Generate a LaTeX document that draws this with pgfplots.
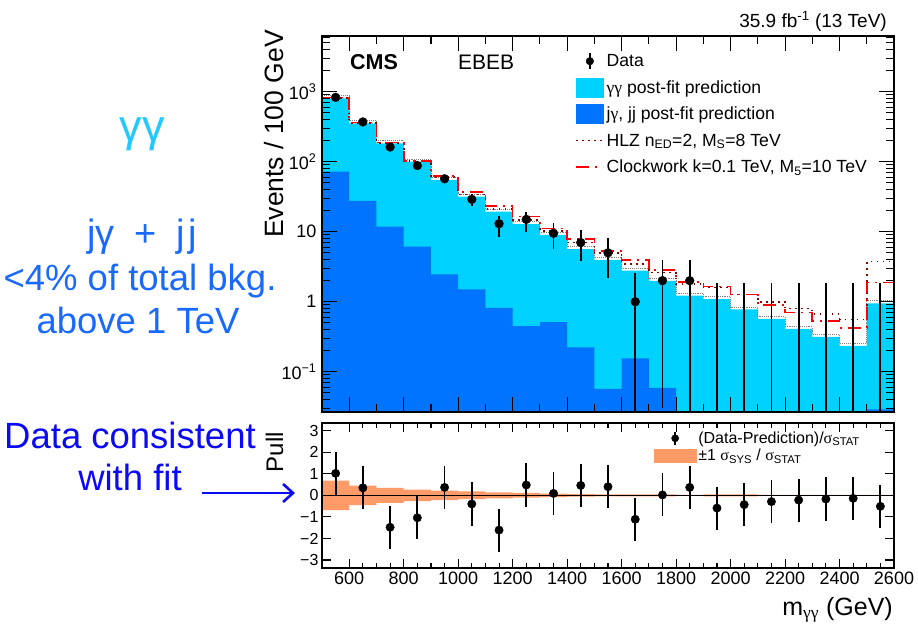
\documentclass[border=0pt]{standalone}
\usepackage{fontspec}
\setmainfont{Liberation Sans}
\newfontfamily\serifgreek{Liberation Serif}
\usepackage{pgfplots}
\pgfplotsset{compat=1.18}
\usetikzlibrary{arrows.meta}
\definecolor{ggcyan}{RGB}{0,210,255}
\definecolor{jjblue}{RGB}{0,115,255}
\definecolor{hlzred}{RGB}{140,0,0}
\definecolor{cwred}{RGB}{255,0,0}
\definecolor{sysorange}{RGB}{255,155,105}
\definecolor{annocyan}{RGB}{35,200,255}
\definecolor{annoblue}{RGB}{25,105,255}
\definecolor{annodark}{RGB}{10,10,245}
\newcommand{\fs}[1]{\fontsize{#1}{#1}\selectfont}
\newcommand{\sg}{{\serifgreek γ}}
\newcommand{\ssig}{{\serifgreek σ}}
\begin{document}
\begin{tikzpicture}
\useasboundingbox (0pt,0pt) rectangle (918pt,-625pt);
% ---------------- upper panel ----------------
\begin{axis}[
  at={(322pt,-412pt)}, anchor=south west, scale only axis,
  width=572pt, height=376.3pt,
  xmin=500, xmax=2600, ymode=log, ymin=0.0266, ymax=6300,
  xtick={600,800,...,2600}, xticklabels={}, minor x tick num=1,
  ytick={0.1,1,10,100,1000},
  yticklabels={10\textsuperscript{−1},1,10,10\textsuperscript{2},10\textsuperscript{3}},
  minor ytick={0.03,0.04,0.05,0.06,0.07,0.08,0.09,0.2,0.3,0.4,0.5,0.6,0.7,0.8,0.9,2,3,4,5,6,7,8,9,20,30,40,50,60,70,80,90,200,300,400,500,600,700,800,900,2000,3000,4000,5000,6000},
  tick align=inside, major tick length=15pt, minor tick length=8pt,
  axis line style={line width=1.6pt}, tick style={line width=1.1pt, black},
  yticklabel style={font=\fs{18}, xshift=-2pt},
  axis on top,
  legend style={at={(rel axis cs:0.443,0.968)}, anchor=north west, draw=none, fill=none,
    font=\fs{17.6}, row sep=0pt, inner sep=0pt, nodes={inner sep=2.5pt, minimum height=26.5pt}},
  legend cell align=left,
]
% total background (gamma gamma + jets), cyan
\addplot[fill=ggcyan, draw=none, const plot mark left, forget plot] coordinates {
 (500,0.01) (500,805) (600,354) (700,183) (800,100) (900,55) (1000,31.6) (1100,19.3)
 (1200,12.8) (1300,9.0) (1400,5.66) (1500,3.94) (1600,2.77) (1700,1.98) (1800,1.22)
 (1900,1.09) (2000,0.78) (2100,0.567) (2200,0.41) (2300,0.316) (2400,0.235) (2500,0.95)
 (2600,0.95) (2600,0.01)};
% uncertainty edge
\addplot[gray, line width=0.9pt, densely dotted, const plot mark left, forget plot] coordinates {
 (500,869) (600,382) (700,198) (800,108) (900,59.4) (1000,34.1) (1100,20.8)
 (1200,13.8) (1300,9.72) (1400,6.11) (1500,4.26) (1600,2.99) (1700,2.14) (1800,1.32)
 (1900,1.18) (2000,0.84) (2100,0.61) (2200,0.44) (2300,0.34) (2400,0.254) (2500,1.03) (2600,1.03)};
% j gamma + jj, blue
\addplot[fill=jjblue, draw=none, const plot mark left, forget plot] coordinates {
 (500,0.01) (500,72) (600,27.6) (700,11.8) (800,6.1) (900,2.46) (1000,1.5) (1100,0.82)
 (1200,0.45) (1300,0.51) (1400,0.223) (1500,0.057) (1600,0.155) (1700,0.059) (1800,0.01)
 (1900,0.01) (2000,0.01) (2100,0.01) (2200,0.01) (2300,0.01) (2400,0.01) (2500,0.029)
 (2600,0.029) (2600,0.01)};
% HLZ
\addplot[hlzred, line width=1.6pt, dash pattern=on 1.6pt off 4.4pt, const plot mark left, forget plot] coordinates {
 (500,815) (600,360) (700,186) (800,102) (900,61) (1000,34) (1100,21)
 (1200,14.7) (1300,10.3) (1400,7.0) (1500,5.0) (1600,3.46) (1700,2.6) (1800,1.79)
 (1900,1.6) (2000,1.27) (2100,1.0) (2200,0.80) (2300,0.667) (2400,0.56) (2500,3.73) (2600,3.73)};
% Clockwork
\addplot[cwred, line width=1.6pt, dash pattern=on 13pt off 6pt on 2pt off 6pt, const plot mark left, forget plot] coordinates {
 (500,830) (600,364) (700,187) (800,103) (900,63) (1000,37) (1100,23.5)
 (1200,16.4) (1300,11.1) (1400,7.8) (1500,5.35) (1600,3.94) (1700,2.84) (1800,1.93)
 (1900,1.64) (2000,1.27) (2100,0.906) (2200,0.70) (2300,0.535) (2400,0.425) (2500,1.89) (2600,1.89)};
% data error bars
\addplot[black, line width=1.8pt, unbounded coords=jump, forget plot] table[row sep=\\] {
 x y\\ 550 801\\ 550 859\\ nan nan\\ 650 351\\ 650 389\\ nan nan\\ 750 149\\ 750 175\\ nan nan\\
 850 79\\ 850 97\\ nan nan\\ 950 49.5\\ 950 64.5\\ nan nan\\ 1050 23\\ 1050 34.4\\ nan nan\\
 1150 8.3\\ 1150 17\\ nan nan\\ 1250 10\\ 1250 19.3\\ nan nan\\ 1350 5.6\\ 1350 13.2\\ nan nan\\
 1450 3.85\\ 1450 10.6\\ nan nan\\ 1550 2.2\\ 1550 8\\ nan nan\\ 1650 0.01\\ 1650 2.6\\ nan nan\\
 1750 0.03\\ 1750 3.94\\ nan nan\\ 1850 0.01\\ 1850 3.94\\ nan nan\\ 1950 0.01\\ 1950 1.83\\ nan nan\\
 2050 0.01\\ 2050 1.83\\ nan nan\\ 2150 0.01\\ 2150 1.83\\ nan nan\\ 2250 0.01\\ 2250 1.83\\ nan nan\\
 2350 0.01\\ 2350 1.83\\ nan nan\\ 2450 0.01\\ 2450 1.83\\ nan nan\\ 2550 0.01\\ 2550 1.83\\
};
% data points
\addplot[only marks, mark=*, mark size=4.4pt, black, forget plot] coordinates {
 (550,830) (650,370) (750,162) (850,88) (950,57) (1050,29) (1150,13) (1250,15)
 (1350,9.5) (1450,7) (1550,5) (1650,1) (1750,2) (1850,2)};
\addlegendimage{legend image code/.code={\draw[black,line width=1.6pt] (13.5pt,-8pt)--(13.5pt,8pt); \fill[black] (13.5pt,0pt) circle (3.8pt);}}
\addlegendentry{Data}
\addlegendimage{legend image code/.code={\fill[ggcyan] (0pt,-9.5pt) rectangle (27pt,9.5pt);}}
\addlegendentry{\sg\sg\ post-fit prediction}
\addlegendimage{legend image code/.code={\fill[jjblue] (0pt,-9.5pt) rectangle (27pt,9.5pt);}}
\addlegendentry{j\sg, jj post-fit prediction}
\addlegendimage{legend image code/.code={\draw[hlzred,line width=1.6pt,dash pattern=on 1.6pt off 4.4pt] (0pt,0pt)--(27pt,0pt);}}
\addlegendentry{HLZ n\textsubscript{ED}=2, M\textsubscript{S}=8 TeV}
\addlegendimage{legend image code/.code={\draw[cwred,line width=1.6pt,dash pattern=on 13pt off 6pt on 2pt off 6pt] (0pt,0pt)--(27pt,0pt);}}
\addlegendentry{Clockwork k=0.1 TeV, M\textsubscript{5}=10 TeV}
\end{axis}
% ---------------- pull panel ----------------
\begin{axis}[
  at={(322pt,-568pt)}, anchor=south west, scale only axis,
  width=572pt, height=145pt,
  xmin=500, xmax=2600, ymin=-3.37, ymax=3.355,
  xtick={600,800,...,2600},
  xticklabels={600,800,1000,1200,1400,1600,1800,2000,2200,2400,2600},
  minor x tick num=3,
  ytick={-3,-2,-1,0,1,2,3}, yticklabels={−3,−2,−1,0,1,2,3},
  tick align=inside, major tick length=9pt, minor tick length=5pt,
  axis line style={line width=1.6pt}, tick style={line width=1.1pt, black},
  xticklabel style={font=\fs{18}}, yticklabel style={font=\fs{16}},
  axis on top,
  legend style={at={(rel axis cs:0.58,0.955)}, anchor=north west, draw=none, fill=none,
    font=\fs{16}, row sep=0pt, inner sep=0pt, nodes={inner sep=2pt, minimum height=17pt}},
  legend cell align=left,
]
\addplot[ybar interval, fill=sysorange, draw=none, forget plot] coordinates {
 (500,0.68) (600,0.45) (700,0.35) (800,0.27) (900,0.22) (1000,0.18) (1100,0.14) (1200,0.11)
 (1300,0.08) (1400,0.06) (1500,0.05) (1600,0.05) (1700,0.05) (1800,0.02) (1900,0.05)
 (2000,0.05) (2100,0.02) (2200,0.02) (2300,0.02) (2400,0.02) (2500,0.02) (2600,0.02)};
\addplot[ybar interval, fill=sysorange, draw=none, forget plot] coordinates {
 (500,-0.68) (600,-0.45) (700,-0.35) (800,-0.27) (900,-0.22) (1000,-0.18) (1100,-0.14) (1200,-0.11)
 (1300,-0.08) (1400,-0.06) (1500,-0.05) (1600,-0.05) (1700,-0.05) (1800,-0.02) (1900,-0.05)
 (2000,-0.05) (2100,-0.02) (2200,-0.02) (2300,-0.02) (2400,-0.02) (2500,-0.02) (2600,-0.02)};
\addplot[black, line width=1.2pt, forget plot] coordinates {(500,0) (2600,0)};
\addplot[only marks, mark=*, mark size=4.2pt, black, forget plot,
  error bars/.cd, y dir=both, y fixed=1, error mark=none,
  error bar style={line width=1.8pt}] coordinates {
 (550,1.02) (650,0.35) (750,-1.48) (850,-1.04) (950,0.37) (1050,-0.40) (1150,-1.61)
 (1250,0.48) (1350,0.09) (1450,0.46) (1550,0.40) (1650,-1.11) (1750,0.02) (1850,0.37)
 (1950,-0.59) (2050,-0.43) (2150,-0.29) (2250,-0.22) (2350,-0.17) (2450,-0.14) (2550,-0.51)};
\addlegendimage{legend image code/.code={\draw[black,line width=1.6pt] (21pt,-6.5pt)--(21pt,6.5pt); \fill[black] (21pt,0pt) circle (3.6pt);}}
\addlegendentry{(Data-Prediction)/\ssig\textsubscript{STAT}}
\addlegendimage{legend image code/.code={\fill[sysorange] (0pt,-6.5pt) rectangle (42pt,6.5pt);}}
\addlegendentry{±1 \ssig\textsubscript{SYS} / \ssig\textsubscript{STAT}}
\end{axis}
% ---------------- texts ----------------
\node[anchor=base east, font=\fs{19}, inner sep=0pt] at (887pt,-27pt) {35.9 fb\textsuperscript{-1} (13 TeV)};
\node[anchor=base west, font=\bfseries\fs{21.5}, inner sep=0pt] at (350pt,-69pt) {CMS};
\node[anchor=base west, font=\fs{21}, inner sep=0pt] at (458pt,-69pt) {EBEB};
\node[anchor=base east, rotate=90, font=\fs{26.5}, inner sep=0pt] at (283pt,-30pt) {Events / 100 GeV};
\node[anchor=base east, rotate=90, font=\fs{24}, inner sep=0pt] at (283pt,-432pt) {Pull};
\node[anchor=base east, font=\fs{25}, inner sep=0pt] at (893pt,-615pt) {m\textsubscript{\sg\sg} (GeV)};
% annotations
\node[anchor=base, font=\fs{45}, text=annocyan, inner sep=0pt] at (142pt,-141pt) {γγ};
\node[anchor=base, font=\fs{38}, text=annoblue, inner sep=0pt] at (142pt,-246pt) {jγ\hspace{0.25em} + \hspace{0.25em}j\hspace{0.08em}j};
\node[anchor=base, font=\fs{36.5}, text=annoblue, inner sep=0pt] at (140pt,-290pt) {<4\% of total bkg.};
\node[anchor=base, font=\fs{36.5}, text=annoblue, inner sep=0pt] at (138pt,-333pt) {above 1 TeV};
\node[anchor=base, font=\fs{36.5}, text=annodark, inner sep=0pt] at (130pt,-448pt) {Data consistent};
\node[anchor=base, font=\fs{36.5}, text=annodark, inner sep=0pt] at (130pt,-490pt) {with fit};
\draw[annodark, line width=2.6pt, -{Straight Barb[length=10pt,width=18pt]}] (202pt,-493pt) -- (295pt,-493pt);
\end{tikzpicture}
\end{document}
